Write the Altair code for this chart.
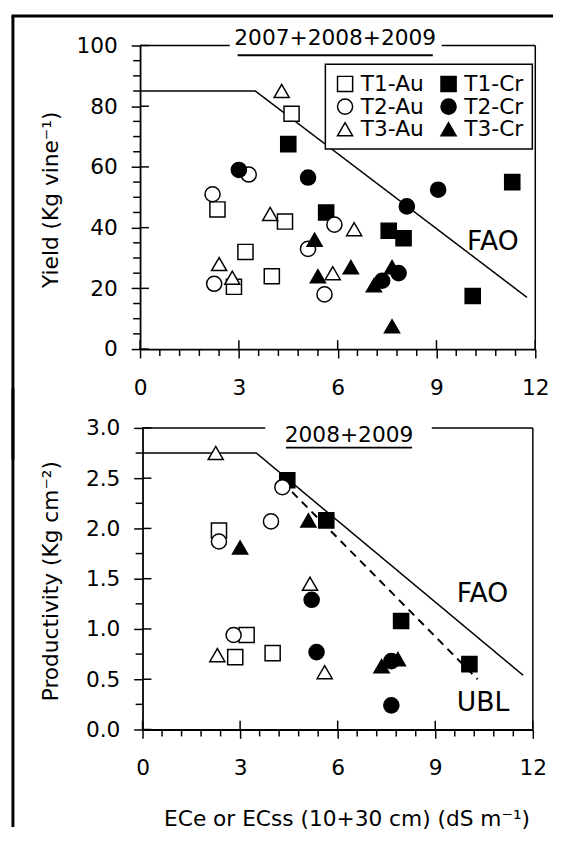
import altair as alt
import pandas as pd

FONT = "DejaVu Sans"

# ---------------- legend / series styling ----------------
series_order = ["T1-Au", "T1-Cr", "T2-Au", "T2-Cr", "T3-Au", "T3-Cr"]
series_shapes = ["square", "square", "circle", "circle", "triangle-up", "triangle-up"]
series_fills = ["white", "black", "white", "black", "white", "black"]
series_sizes = [235, 235, 235, 235, 320, 320]

# ---------------- top panel: Yield (2007+2008+2009) ----------------
t1au_ec_y = [4.6, 2.35, 4.4, 3.2, 4.0, 2.85]
t1au_yield = [77.5, 46, 42, 32, 24, 20.5]
t1cr_ec_y = [4.5, 5.65, 7.55, 8.0, 11.3, 10.1]
t1cr_yield = [67.5, 45, 39, 36.5, 55, 17.5]
t2au_ec_y = [2.2, 3.3, 2.25, 5.9, 5.1, 5.6]
t2au_yield = [51, 57.5, 21.5, 41, 33, 18]
t2cr_ec_y = [3.0, 5.1, 8.1, 9.05, 7.85, 7.35]
t2cr_yield = [59, 56.5, 47, 52.5, 25, 22.5]
t3au_ec_y = [4.3, 3.95, 6.5, 2.4, 2.8, 5.85]
t3au_yield = [85, 44.5, 39.5, 28, 23.5, 25]
t3cr_ec_y = [5.3, 5.4, 6.4, 7.65, 7.1, 7.65]
t3cr_yield = [36, 24, 27, 27, 21, 7.5]

fao_yield_x = [0, 3.5, 11.75]
fao_yield_y = [85, 85, 17]

# ---------------- bottom panel: Productivity (2008+2009) ----------------
t1au_ec_p = [2.35, 3.2, 2.85, 4.0]
t1au_prod = [1.98, 0.94, 0.72, 0.76]
t1cr_ec_p = [4.45, 5.65, 7.95, 10.05]
t1cr_prod = [2.48, 2.08, 1.08, 0.65]
t2au_ec_p = [4.3, 3.95, 2.35, 2.8]
t2au_prod = [2.41, 2.07, 1.87, 0.94]
t2cr_ec_p = [5.2, 5.35, 7.65, 7.65]
t2cr_prod = [1.29, 0.77, 0.24, 0.68]
t3au_ec_p = [2.25, 5.15, 2.3, 5.6]
t3au_prod = [2.75, 1.45, 0.74, 0.57]
t3cr_ec_p = [5.1, 3.0, 7.35, 7.85]
t3cr_prod = [2.08, 1.81, 0.63, 0.7]

fao_prod_x = [0, 3.5, 11.7]
fao_prod_y = [2.75, 2.75, 0.54]
ubl_prod_x = [4.3, 10.3]
ubl_prod_y = [2.46, 0.5]

# line labels
top_label_text = ["FAO"]
top_label_x = [9.93]
top_label_y = [32.5]
bot_label_text = ["FAO", "UBL"]
bot_label_x = [9.66, 9.66]
bot_label_y = [1.265, 0.186]

# axis ticks
x_major = [0, 3, 6, 9, 12]
x_minor = [0.6, 1.2, 1.8, 2.4, 3.6, 4.2, 4.8, 5.4, 6.6, 7.2, 7.8, 8.4, 9.6, 10.2, 10.8, 11.4]
yield_major = [0, 20, 40, 60, 80, 100]
yield_minor = [5, 10, 15, 25, 30, 35, 45, 50, 55, 65, 70, 75, 85, 90, 95]
prod_major = [0, 0.5, 1.0, 1.5, 2.0, 2.5, 3.0]
prod_minor = [0.25, 0.75, 1.25, 1.75, 2.25, 2.75]


def build(groups):
    rows = []
    for name, xs, ys in groups:
        for a, b in zip(xs, ys):
            rows.append({"series": name, "x": a, "y": b})
    return pd.DataFrame(rows)


top_pts = build([
    ("T1-Au", t1au_ec_y, t1au_yield), ("T1-Cr", t1cr_ec_y, t1cr_yield),
    ("T2-Au", t2au_ec_y, t2au_yield), ("T2-Cr", t2cr_ec_y, t2cr_yield),
    ("T3-Au", t3au_ec_y, t3au_yield), ("T3-Cr", t3cr_ec_y, t3cr_yield),
])
bot_pts = build([
    ("T1-Au", t1au_ec_p, t1au_prod), ("T1-Cr", t1cr_ec_p, t1cr_prod),
    ("T2-Au", t2au_ec_p, t2au_prod), ("T2-Cr", t2cr_ec_p, t2cr_prod),
    ("T3-Au", t3au_ec_p, t3au_prod), ("T3-Cr", t3cr_ec_p, t3cr_prod),
])
fao_top_df = pd.DataFrame({"x": fao_yield_x, "y": fao_yield_y})
fao_bot_df = pd.DataFrame({"x": fao_prod_x, "y": fao_prod_y})
ubl_bot_df = pd.DataFrame({"x": ubl_prod_x, "y": ubl_prod_y})
top_lab_df = pd.DataFrame({"x": top_label_x, "y": top_label_y, "t": top_label_text})
bot_lab_df = pd.DataFrame({"x": bot_label_x, "y": bot_label_y, "t": bot_label_text})
one_row = pd.DataFrame({"k": [0]})

legend = alt.Legend(
    orient="none", legendX=188, legendY=19, columns=2, direction="horizontal", title=None,
    labelFont=FONT, labelFontSize=22, labelColor="black", labelOffset=5,
    symbolStrokeColor="black", symbolStrokeWidth=1.5, symbolOpacity=1,
    strokeColor="black", fillColor="white",
    padding=9, columnPadding=14, rowPadding=1,
)


def sym_encodings():
    return dict(
        shape=alt.Shape("series:N", scale=alt.Scale(domain=series_order, range=series_shapes), legend=legend),
        fill=alt.Fill("series:N", scale=alt.Scale(domain=series_order, range=series_fills), legend=legend),
        size=alt.Size("series:N", scale=alt.Scale(domain=series_order, range=series_sizes), legend=legend),
        stroke=alt.Stroke("series:N", scale=alt.Scale(domain=series_order, range=["black"] * 6), legend=legend),
    )


def rule(x=None, x2=None, y=None, y2=None, width=1.5):
    enc = {}
    if x is not None:
        enc["x"] = alt.value(x)
    if x2 is not None:
        enc["x2"] = alt.value(x2)
    if y is not None:
        enc["y"] = alt.value(y)
    if y2 is not None:
        enc["y2"] = alt.value(y2)
    return alt.Chart(one_row).mark_rule(color="black", strokeWidth=width).encode(**enc)


def panel(pts, lines, labels_df, ydom, y_major, y_minor, yfmt, ytitle, ytitleX,
          xtitle, w, h, title, title_x, title_y, ul_x1, ul_x2, ul_y, gap1, gap2,
          frame_top, frame_y1, frame_y2, frame_x):
    xs = alt.Scale(domain=[0, 12], nice=False, zero=False)
    ys = alt.Scale(domain=ydom, nice=False, zero=False)

    if xtitle:
        ax_x = alt.Axis(orient="bottom", values=x_major, format="d", title=xtitle,
                        tickSize=9, labelPadding=20, labelFlush=False, labelOverlap=False,
                        titleX=w / 2 + 9, titleY=90, titleBaseline="middle")
    else:
        ax_x = alt.Axis(orient="bottom", values=x_major, format="d", title=None,
                        tickSize=9, labelPadding=20, labelFlush=False, labelOverlap=False)
    ax_y = alt.Axis(orient="left", values=y_major, format=yfmt, title=ytitle,
                    tickSize=9, labelPadding=14, labelFlush=False, labelOverlap=False,
                    titleX=ytitleX, titleY=h / 2 + 2, titleBaseline="middle")

    def X(field, axis=None):
        return alt.X(field, scale=xs, axis=axis)

    def Y(field, axis=None):
        return alt.Y(field, scale=ys, axis=axis)

    layers = []
    first = True
    for df, dash, sw in lines:
        if first:
            enc = dict(x=X("x:Q", ax_x), y=Y("y:Q", ax_y))
            first = False
        else:
            enc = dict(x=X("x:Q"), y=Y("y:Q"))
        layers.append(alt.Chart(df).mark_line(color="black", strokeWidth=sw, strokeDash=dash).encode(**enc))

    # tick marks: inner halves of the major ticks, and minor ticks (outside)
    xmaj = pd.DataFrame({"tx": x_major})
    xmin = pd.DataFrame({"tx": x_minor})
    ymaj = pd.DataFrame({"ty": y_major})
    ymin = pd.DataFrame({"ty": y_minor})
    tick_layers = [
        alt.Chart(xmaj).mark_rule(color="black", strokeWidth=1.5).encode(
            x=X("tx:Q"), y=alt.value(h - 9), y2=alt.value(h)),
        alt.Chart(xmin).mark_rule(color="black", strokeWidth=1.5).encode(
            x=X("tx:Q"), y=alt.value(h), y2=alt.value(h + 7)),
        alt.Chart(ymaj).mark_rule(color="black", strokeWidth=1.5).encode(
            y=Y("ty:Q"), x=alt.value(0), x2=alt.value(9)),
        alt.Chart(ymin).mark_rule(color="black", strokeWidth=1.5).encode(
            y=Y("ty:Q"), x=alt.value(-7), x2=alt.value(0)),
    ]

    pts_layer = alt.Chart(pts).mark_point(filled=True, strokeWidth=1.5, opacity=1).encode(
        x=X("x:Q"), y=Y("y:Q"), **sym_encodings())
    lab_layer = alt.Chart(labels_df).mark_text(font=FONT, fontSize=27, align="left",
                                                baseline="alphabetic", color="black").encode(
        x=X("x:Q"), y=Y("y:Q"), text="t:N")

    title_layer = alt.Chart(one_row).mark_text(text=title, font=FONT, fontSize=22, align="center",
                                                baseline="alphabetic", color="black").encode(
        x=alt.value(title_x), y=alt.value(title_y))

    deco = [
        rule(x=w, y=0, y2=h, width=1.5),                 # right border
        rule(x=0, x2=gap1, y=0, width=1.5),              # top border left piece
        rule(x=gap2, x2=w, y=0, width=1.5),              # top border right piece
        rule(x=ul_x1, x2=ul_x2, y=ul_y, width=2),        # title underline
        rule(x=frame_x, y=frame_y1, y2=frame_y2, width=3),  # outer frame left
    ]
    if frame_top is not None:
        deco.append(rule(x=frame_x - 1.5, x2=419, y=frame_top, width=3))

    chart = alt.layer(*layers, *tick_layers, pts_layer, lab_layer, title_layer, *deco).resolve_scale(
        x="shared", y="shared").resolve_axis(x="independent", y="independent").properties(
        width=w, height=h)
    return chart


top = panel(
    top_pts, [(fao_top_df, [1, 0], 1.5)], top_lab_df, [0, 100], yield_major, yield_minor, "d",
    "Yield (Kg vine⁻¹)", -91, None, 401, 308,
    "2007+2008+2009", 198, 0, 99, 297, 10, 91, 306,
    -30, -30, 420, -129,
)
bottom = panel(
    bot_pts, [(fao_bot_df, [1, 0], 1.5), (ubl_bot_df, [8, 6], 2)], bot_lab_df, [0, 3], prod_major,
    prod_minor, ".1f", "Productivity (Kg cm⁻²)", -93.5, "ECe or ECss (10+30 cm) (dS m⁻¹)", 396, 306,
    "2008+2009", 209.5, 14, 145.5, 273.5, 20, 124.5, 293.5,
    None, -40, 405, -131.5,
)

chart = alt.vconcat(top, bottom, spacing=80, bounds="flush", center=True).properties(
    padding={"left": 2, "top": 0, "right": 0, "bottom": 0}
).configure_axis(
    grid=False, domainColor="black", tickColor="black", labelColor="black", titleColor="black",
    labelFont=FONT, titleFont=FONT, labelFontSize=22, titleFontSize=22, titleFontWeight="normal",
    domainWidth=1.8, tickWidth=1.5,
).configure_legend(strokeWidth=1.5).configure_view(stroke=None)

chart.save("out.html", embed_options={"renderer": "svg", "actions": False})
